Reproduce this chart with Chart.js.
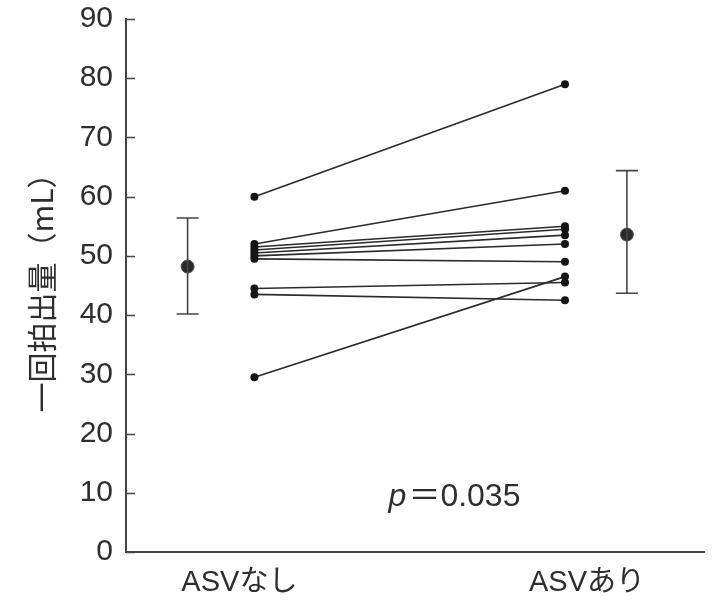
<!DOCTYPE html>
<html>
<head>
<meta charset="utf-8">
<script src="https://cdn.jsdelivr.net/npm/chart.js@4/dist/chart.umd.min.js"></script>
<style>
  html, body { margin: 0; padding: 0; background: #fff; }
</style>
</head>
<body>
<canvas id="myChart" width="717" height="613"></canvas>
<script>
// data
const categories = ['ASVなし', 'ASVあり'];
const before = [60, 52, 51.5, 51, 50.5, 50, 49.5, 44.5, 43.5, 29.5];
const after = [79, 61, 55, 54.5, 53.5, 52, 49, 45.5, 42.5, 46.5];
const means = [48.2, 53.6];
const sdLow = [40.2, 43.7];
const sdHigh = [56.4, 64.4];
const yTicks = [0, 10, 20, 30, 40, 50, 60, 70, 80, 90];
const yTitle = '一回拍出量（mL）';
const pLabel = ['p', '＝0.035'];

// where things sit on the hidden 0-100 x scale
const pairX = [22.2, 75.9];
const meanX = [10.65, 86.6];
const labelX = [19.6, 79.7];
const pPos = { x: 45.4, y: 9.3 };

const ink = '#2e2e2e';
const sans = "'Liberation Sans', Arial, 'Noto Sans CJK JP', sans-serif";

const datasets = [];
before.forEach((b, i) => {
  datasets.push({
    data: [{ x: pairX[0], y: b }, { x: pairX[1], y: after[i] }],
    showLine: true,
    borderColor: '#2b2b2b',
    borderWidth: 1.6,
    pointRadius: 4,
    pointBackgroundColor: '#151515',
    pointBorderWidth: 0
  });
});
means.forEach((m, j) => {
  datasets.push({
    data: [{ x: meanX[j], y: sdLow[j] }, { x: meanX[j], y: sdHigh[j] }],
    showLine: true,
    borderColor: '#444',
    borderWidth: 1.6,
    pointStyle: 'line',
    pointRadius: 11,
    pointBorderColor: '#444',
    pointBorderWidth: 1.6
  });
});
datasets.push({
  data: means.map((m, j) => ({ x: meanX[j], y: m })),
  showLine: false,
  pointRadius: 6.5,
  pointBackgroundColor: '#2a2a2a',
  pointBorderColor: '#555',
  pointBorderWidth: 1
});

const extras = {
  id: 'extras',
  afterDraw(chart) {
    const { ctx, scales: { x, y } } = chart;
    ctx.save();
    // short inward ticks on the y axis
    ctx.strokeStyle = '#444';
    ctx.lineWidth = 1.5;
    y.ticks.forEach(t => {
      const py = Math.round(y.getPixelForValue(t.value)) + 0.5;
      ctx.beginPath();
      ctx.moveTo(x.left, py);
      ctx.lineTo(x.left + 9, py);
      ctx.stroke();
    });
    // p value
    let px = x.getPixelForValue(pPos.x);
    const py = y.getPixelForValue(pPos.y);
    ctx.fillStyle = ink;
    ctx.textBaseline = 'middle';
    ctx.textAlign = 'left';
    ctx.font = "italic 32px 'Liberation Sans', Arial, sans-serif";
    ctx.fillText(pLabel[0], px, py);
    px += ctx.measureText(pLabel[0]).width + 2;
    ctx.font = "32px 'Liberation Sans', 'Noto Sans CJK JP', sans-serif";
    ctx.fillText(pLabel[1], px, py);
    ctx.restore();
  }
};

const ctx = document.getElementById('myChart').getContext('2d');
const myChart = new Chart(ctx, {
  type: 'scatter',
  data: { datasets: datasets },
  options: {
    responsive: false,
    animation: false,
    layout: { padding: { top: 19, right: 6, left: 0, bottom: 0 } },
    plugins: {
      legend: { display: false },
      tooltip: { enabled: false }
    },
    scales: {
      x: {
        type: 'linear',
        min: 0,
        max: 100,
        afterBuildTicks: scale => { scale.ticks = labelX.map(v => ({ value: v })); },
        afterFit: scale => {
          scale.height = 61;
          scale.paddingLeft = 0;
          scale.paddingRight = 0;
        },
        grid: { display: false, drawTicks: false },
        border: { display: true, color: '#444', width: 2 },
        ticks: {
          padding: 14,
          color: ink,
          font: { family: sans, size: 29 },
          maxRotation: 0,
          callback: (v, i) => categories[i]
        }
      },
      y: {
        min: 0,
        max: 90,
        afterBuildTicks: scale => { scale.ticks = yTicks.map(v => ({ value: v })); },
        afterFit: scale => {
          scale.width = 126;
          scale.paddingTop = 0;
          scale.paddingBottom = 0;
        },
        grid: { display: false, drawTicks: false },
        border: { display: true, color: '#444', width: 2 },
        ticks: {
          padding: 13,
          color: ink,
          font: { family: sans, size: 30 }
        },
        title: {
          display: true,
          text: yTitle,
          color: ink,
          font: { family: "'Noto Sans CJK JP', sans-serif", size: 30 },
          padding: { top: 24, bottom: 0 }
        }
      }
    }
  },
  plugins: [extras]
});
</script>
</body>
</html>
